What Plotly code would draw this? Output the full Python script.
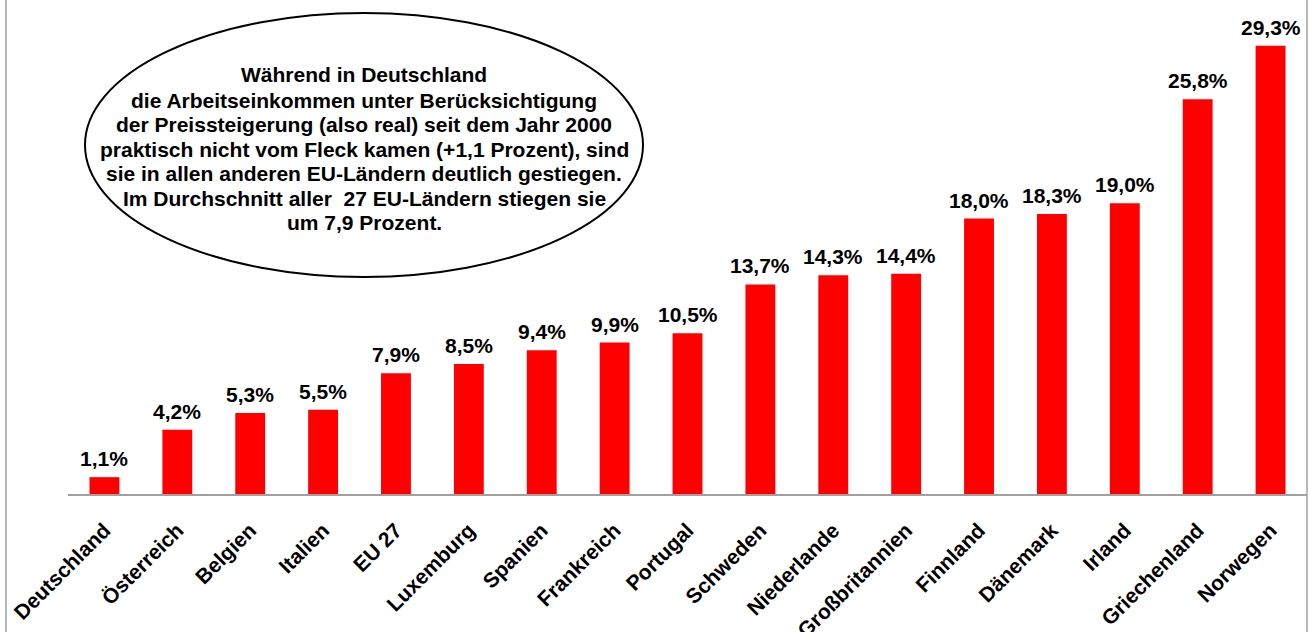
import plotly.graph_objects as go

countries = ["Deutschland", "Österreich", "Belgien", "Italien", "EU 27", "Luxemburg",
             "Spanien", "Frankreich", "Portugal", "Schweden", "Niederlande",
             "Großbritannien", "Finnland", "Dänemark", "Irland", "Griechenland", "Norwegen"]
values = [1.1, 4.2, 5.3, 5.5, 7.9, 8.5, 9.4, 9.9, 10.5, 13.7, 14.3, 14.4, 18.0, 18.3, 19.0, 25.8, 29.3]
labels = [f"{v:.1f}%".replace(".", ",") for v in values]

note_lines = [
    "Während in Deutschland",
    "die Arbeitseinkommen unter Berücksichtigung",
    "der Preissteigerung (also real) seit dem Jahr 2000",
    "praktisch nicht vom Fleck kamen (+1,1 Prozent), sind",
    "sie in allen anderen EU-Ländern deutlich gestiegen.",
    "Im Durchschnitt aller  27 EU-Ländern stiegen sie",
    "um 7,9 Prozent.",
]

FONT = "Arial, Liberation Sans, sans-serif"
W, H = 1311, 632
ML, MR, MT, MB = 68, 4, 35, 138
plot_h = H - MT - MB
plot_w = W - ML - MR

def px_to_paper_x(px):
    return (px - ML) / plot_w

def px_to_paper_y(py):
    return (H - MB - py) / plot_h

fig = go.Figure()
fig.add_trace(go.Bar(
    x=countries, y=values,
    marker=dict(color="#FF0000", line=dict(width=0)),
    hoverinfo="x+y",
))

annotations = []
for c, v, t in zip(countries, values, labels):
    annotations.append(dict(
        x=c, y=v, xref="x", yref="y", text=t, showarrow=False,
        yanchor="bottom", yshift=5,
        font=dict(family=FONT, size=21, color="#000", weight="bold"),
    ))

line_ys = [75, 100, 125, 149, 173, 198, 222]
cx = px_to_paper_x(364)
for txt, ly in zip(note_lines, line_ys):
    annotations.append(dict(
        x=cx, y=px_to_paper_y(ly), xref="paper", yref="paper", text=txt,
        showarrow=False, xanchor="center", yanchor="middle",
        font=dict(family=FONT, size=21, color="#000", weight="bold"),
    ))

shapes = [
    dict(type="circle", xref="paper", yref="paper",
         x0=px_to_paper_x(85), x1=px_to_paper_x(643),
         y0=px_to_paper_y(277), y1=px_to_paper_y(13),
         line=dict(color="#000", width=2), fillcolor="rgba(0,0,0,0)", layer="below"),
    dict(type="line", xref="paper", yref="paper",
         x0=px_to_paper_x(6), x1=px_to_paper_x(6),
         y0=px_to_paper_y(H), y1=px_to_paper_y(0),
         line=dict(color="#A0A0A0", width=1.5)),
    dict(type="line", xref="paper", yref="paper",
         x0=px_to_paper_x(1307), x1=px_to_paper_x(1307),
         y0=px_to_paper_y(H), y1=px_to_paper_y(0),
         line=dict(color="#A0A0A0", width=1.5)),
]

fig.update_layout(
    width=W, height=H,
    margin=dict(l=ML, r=MR, t=MT, b=MB, autoexpand=False),
    paper_bgcolor="white", plot_bgcolor="white",
    bargap=0.59,
    showlegend=False,
    annotations=annotations,
    shapes=shapes,
    xaxis=dict(
        showline=True, linecolor="#A0A0A0", linewidth=1.5,
        tickangle=-45, ticks="outside", ticklen=14, tickcolor="rgba(0,0,0,0)",
        tickfont=dict(family=FONT, size=21, color="#000", weight="bold"),
        showgrid=False, zeroline=False,
    ),
    yaxis=dict(range=[0, 30], visible=False, showgrid=False, zeroline=False),
)

fig.write_html("out.html",
               config={"displayModeBar": False},
               post_script="document.body.style.margin='0';document.body.style.overflow='hidden';")
